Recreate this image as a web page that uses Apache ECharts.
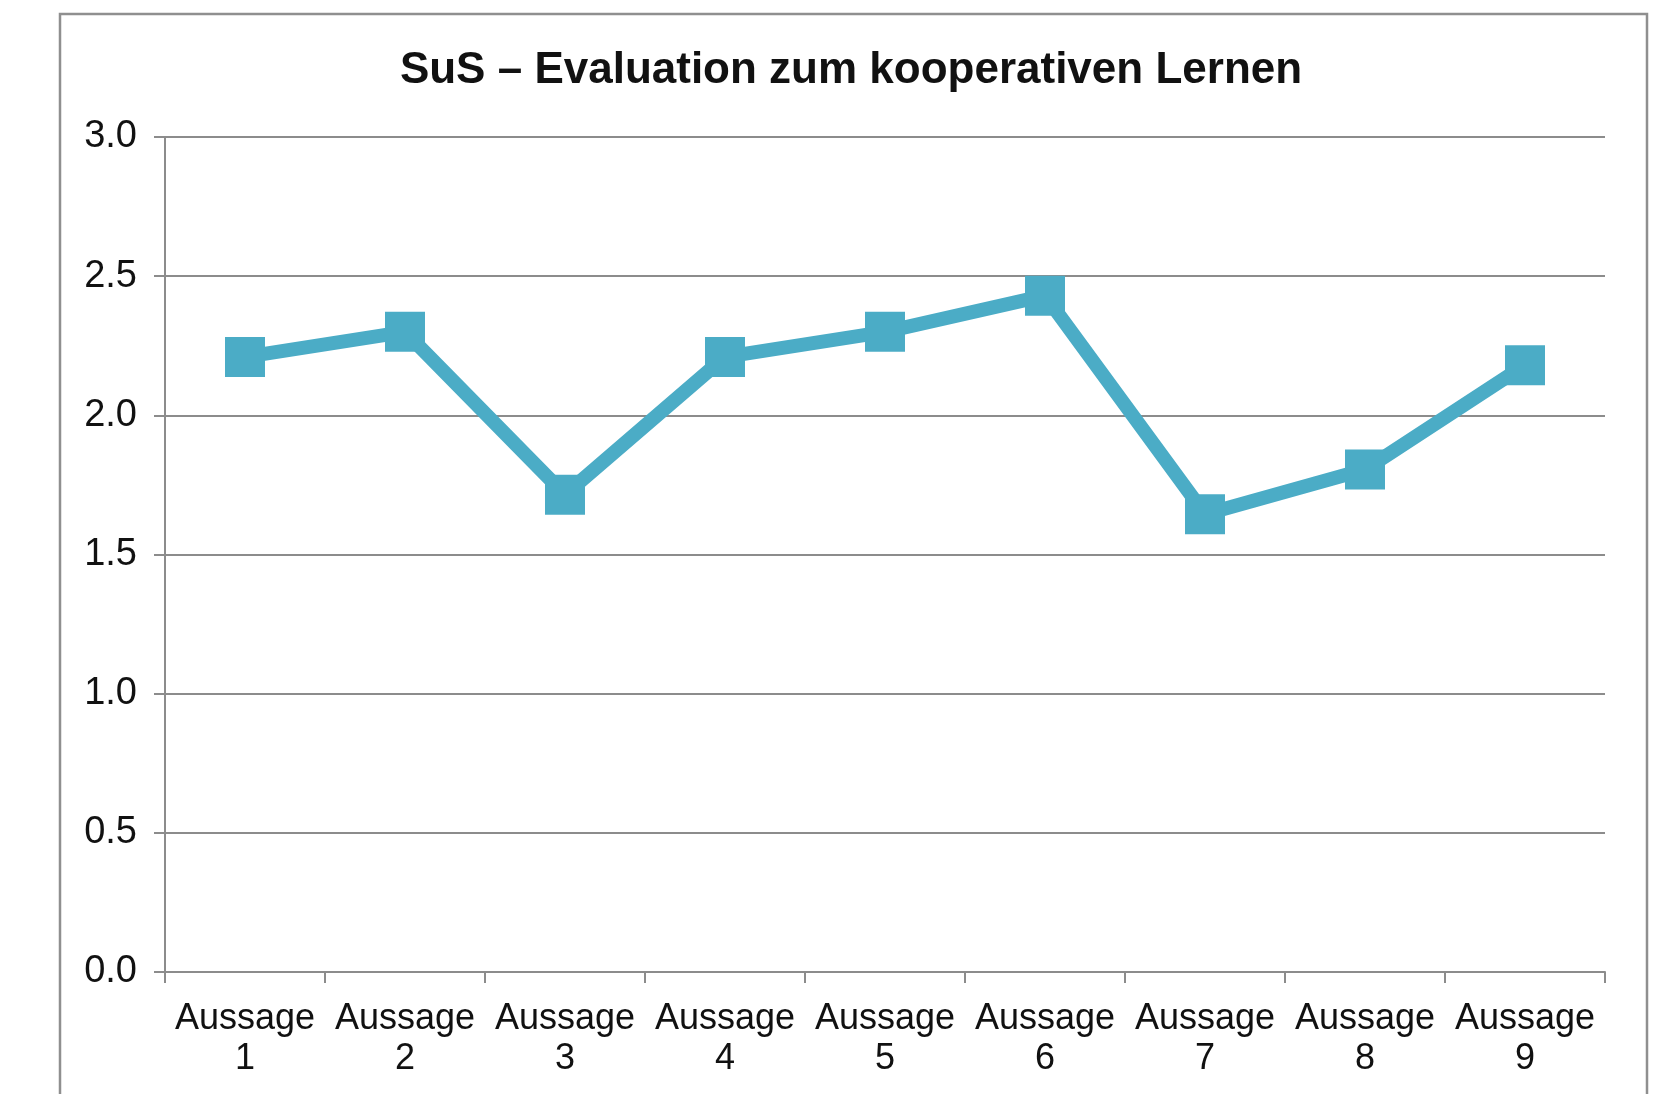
<!DOCTYPE html>
<html>
<head>
<meta charset="utf-8">
<script src="https://cdn.jsdelivr.net/npm/echarts@6/dist/echarts.min.js"></script>
<style>
html,body{margin:0;padding:0;background:#fff;}
#chart{width:1672px;height:1094px;}
</style>
</head>
<body>
<div id="chart"></div>
<script>
const titleText = 'SuS – Evaluation zum kooperativen Lernen';
const categories = ['Aussage\n1','Aussage\n2','Aussage\n3','Aussage\n4','Aussage\n5','Aussage\n6','Aussage\n7','Aussage\n8','Aussage\n9'];
const values = [2.21, 2.30, 1.715, 2.21, 2.30, 2.43, 1.645, 1.805, 2.18];
const yMin = 0, yMax = 3, yStep = 0.5;

const chart = echarts.init(document.getElementById('chart'), null, {renderer:'canvas'});
const gridColor = '#8c8c8c';
const font = '"Liberation Sans", Arial, sans-serif';
chart.setOption({
  backgroundColor:'#ffffff',
  animation:false,
  title:{
    text:titleText,
    left:846, top:44, textAlign:'center',
    textStyle:{fontFamily:font, fontSize:44, fontWeight:'bold', color:'#111'}
  },
  graphic:[{
    type:'rect', silent:true,
    shape:{x:60, y:14, width:1587, height:1120},
    style:{fill:'none', stroke:'#8f8f8f', lineWidth:2.5}
  }],
  grid:{left:165, right:67, top:137, bottom:122, containLabel:false},
  xAxis:{
    type:'category', data:categories, boundaryGap:true,
    axisLine:{show:true, lineStyle:{color:gridColor, width:2}},
    axisTick:{show:true, interval:0, length:11, lineStyle:{color:gridColor, width:2}},
    axisLabel:{interval:0, margin:27, fontFamily:font, fontSize:36, color:'#111', lineHeight:40}
  },
  yAxis:{
    type:'value', min:yMin, max:yMax, interval:yStep,
    axisLine:{show:true, lineStyle:{color:gridColor, width:2}},
    axisTick:{show:true, length:11, lineStyle:{color:gridColor, width:2}},
    axisLabel:{margin:28, fontFamily:font, fontSize:38, color:'#111', formatter:v=>v.toFixed(1)},
    splitLine:{show:true, lineStyle:{color:gridColor, width:2}}
  },
  series:[{
    type:'line', data:values,
    symbol:'rect', symbolSize:40,
    lineStyle:{color:'#4BACC6', width:14},
    itemStyle:{color:'#4BACC6'}
  }]
});
</script>
</body>
</html>
